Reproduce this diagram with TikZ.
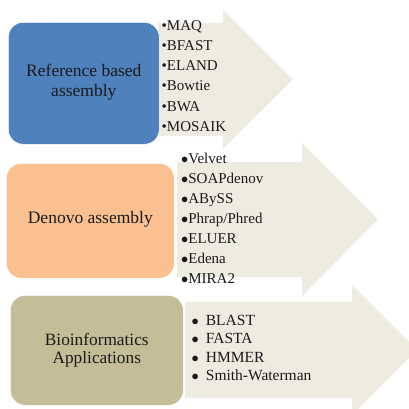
\documentclass[tikz,border=0pt]{standalone}
\usepackage{fontspec}
\setmainfont{Liberation Serif}
\definecolor{boxblue}{HTML}{4F81BD}
\definecolor{boxorange}{HTML}{FAC090}
\definecolor{boxtan}{HTML}{C4BD97}
\definecolor{arrowfill}{HTML}{EEECE1}
\definecolor{txt}{HTML}{1A1A1A}
\begin{document}
\begin{tikzpicture}[x=1pt,y=-1pt,
  bigarrow/.style={fill=arrowfill,draw=none},
  catbox/.style={draw=white,line width=0.6pt,rounded corners=15pt,inner sep=0pt,anchor=north west},
  cattext/.style={font=\fontsize{17.5}{20}\selectfont,text=txt,align=center},
  item/.style={font=\fontsize{15}{20}\selectfont,text=txt,anchor=base west,inner sep=0pt}]
\useasboundingbox (0,0) rectangle (409,409);
\fill[white] (0,0) rectangle (409,409);
% arrows
\fill[bigarrow] (158,23) -- (223,23) -- (223,10) -- (293,79.5) -- (223,149) -- (223,136) -- (158,136) -- cycle;
\fill[bigarrow] (177,162) -- (302,162) -- (302,143) -- (378,219.5) -- (302,296) -- (302,277) -- (177,277) -- cycle;
\fill[bigarrow] (185,302) -- (352,302) -- (352,285) -- (417,350) -- (352,415) -- (352,398) -- (185,398) -- cycle;
% boxes
\node[catbox,fill=boxblue,minimum width=151pt,minimum height=122pt] (b1) at (8,22) {};
\node[catbox,fill=boxorange,minimum width=168pt,minimum height=115pt] (b2) at (6,163) {};
\node[catbox,fill=boxtan,minimum width=173pt,minimum height=110pt] (b3) at (10,295) {};
\node[cattext] (t1) at ([yshift=1pt]b1.center) {Reference based\\assembly};
\node[cattext] (t2) at ([yshift=1pt]b2.center) {Denovo assembly};
\node[cattext,font=\fontsize{17.3}{18.5}\selectfont] (t3) at (b3.center) {Bioinformatics\\Applications};
% lists
\foreach \s [count=\i from 0] in {MAQ,BFAST,ELAND,Bowtie,BWA,MOSAIK}
  \node[item] (a\i) at (161.5,31+20*\i) {\textbullet\s};
\foreach \s [count=\i from 0] in {Velvet,SOAPdenov,ABySS,Phrap/Phred,ELUER,Edena,MIRA2}
  \node[item] (c\i) at (181,163+20*\i) {$\bullet$\s};
\foreach \s [count=\i from 0] in {BLAST,FASTA,HMMER,Smith-Waterman}
  \node[item,font=\fontsize{15.5}{18.5}\selectfont] (d\i) at (191.5,325+18.5*\i) {$\bullet$\hspace{7pt}\s};
\end{tikzpicture}
\end{document}
